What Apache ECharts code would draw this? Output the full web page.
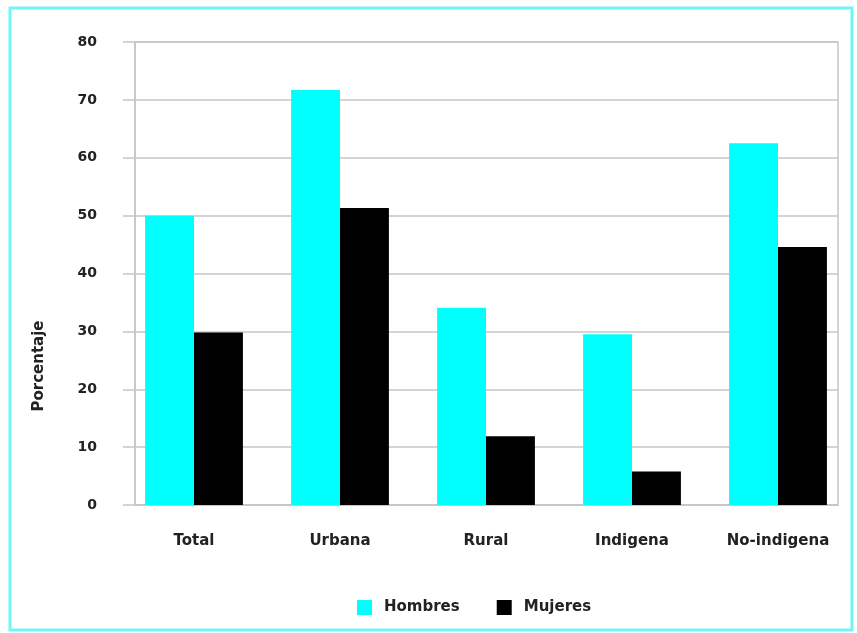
<!DOCTYPE html>
<html>
<head>
<meta charset="utf-8">
<script src="https://cdn.jsdelivr.net/npm/echarts@6/dist/echarts.min.js"></script>
<style>
  html, body { margin: 0; padding: 0; background: #fff; }
  #chart { width: 857px; height: 633px; }
</style>
</head>
<body>
<div id="chart"></div>
<script>
// Categories and percentages by sex
const categories = ['Total', 'Urbana', 'Rural', 'Indigena', 'No-indigena'];
const hombres = [50, 71.7, 34.1, 29.5, 62.5];
const mujeres = [29.8, 51.3, 11.9, 5.8, 44.6];
const yTicks = { min: 0, max: 80, interval: 10 };
const yTitle = 'Porcentaje';

const textColor = '#222';
const font = 'DejaVu Sans';
const lineColor = '#c6c6c6';

const chart = echarts.init(document.getElementById('chart'));
chart.setOption({
  backgroundColor: '#fff',
  animation: false,
  graphic: [
    {
      type: 'rect',
      shape: { x: 10, y: 8, width: 842, height: 622 },
      style: { fill: 'none', stroke: '#6ff5f5', lineWidth: 3 },
      silent: true
    },
    {
      type: 'text',
      x: 39, y: 366,
      rotation: Math.PI / 2,
      style: {
        text: yTitle, fill: textColor,
        font: 'bold 15px "DejaVu Sans"',
        align: 'center', verticalAlign: 'middle'
      },
      silent: true
    }
  ],
  grid: [
    // framed value area with the gridlines
    { left: 135, right: 19, top: 42, bottom: 128, show: true, borderColor: lineColor, borderWidth: 1.5 },
    // area holding the bars and category labels
    { left: 121, right: 6, top: 42, bottom: 128 }
  ],
  legend: {
    top: 595,
    left: 352,
    itemWidth: 15,
    itemHeight: 15,
    itemGap: 37,
    icon: 'rect',
    textStyle: { fontFamily: font, fontSize: 15, fontWeight: 'bold', color: textColor, padding: [0, 0, 0, 7] },
    data: ['Hombres', 'Mujeres']
  },
  xAxis: [
    {
      gridIndex: 0, type: 'category', data: categories,
      axisLine: { lineStyle: { color: lineColor, width: 1.5 } },
      axisTick: { show: false }, axisLabel: { show: false }
    },
    {
      gridIndex: 1, type: 'category', data: categories,
      axisLine: { show: false }, axisTick: { show: false },
      axisLabel: { margin: 29, fontFamily: font, fontSize: 15, fontWeight: 'bold', color: textColor }
    }
  ],
  yAxis: [
    {
      gridIndex: 0, type: 'value',
      min: yTicks.min, max: yTicks.max, interval: yTicks.interval,
      axisLine: { show: true, lineStyle: { color: lineColor, width: 1.5 } },
      axisTick: { show: true, length: 12, lineStyle: { color: lineColor, width: 1.5 } },
      axisLabel: { margin: 38, fontFamily: font, fontSize: 14, fontWeight: 'bold', color: textColor },
      splitLine: { lineStyle: { color: lineColor, width: 1.5 } }
    },
    {
      gridIndex: 1, type: 'value',
      min: yTicks.min, max: yTicks.max, interval: yTicks.interval,
      show: false, splitLine: { show: false }
    }
  ],
  series: [
    {
      name: 'Hombres', type: 'bar', data: hombres,
      xAxisIndex: 1, yAxisIndex: 1,
      itemStyle: { color: '#00ffff' },
      barGap: '0%', barCategoryGap: '33%'
    },
    {
      name: 'Mujeres', type: 'bar', data: mujeres,
      xAxisIndex: 1, yAxisIndex: 1,
      itemStyle: { color: '#000000' },
      barGap: '0%', barCategoryGap: '33%'
    }
  ]
});
</script>
</body>
</html>
